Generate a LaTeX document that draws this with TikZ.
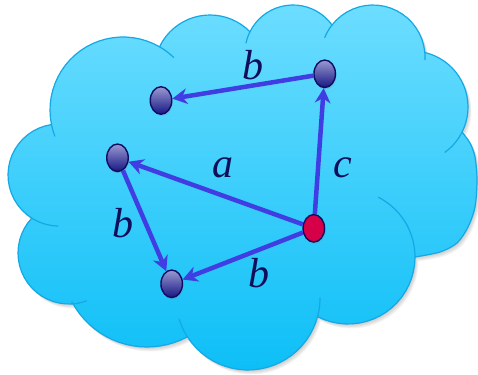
\documentclass[tikz,border=0pt]{standalone}
\usepackage{fontspec}
\setmainfont{Liberation Serif}
\usetikzlibrary{shapes.geometric,arrows.meta,shadows}
\definecolor{cloudtop}{HTML}{6CDDFF}
\definecolor{cloudbot}{HTML}{0DBFF7}
\definecolor{cloudline}{HTML}{14A8E4}
\definecolor{edgeblue}{RGB}{64,62,226}
\definecolor{vtop}{HTML}{9A9AD2}
\definecolor{vbot}{HTML}{161684}
\definecolor{vline}{HTML}{0C0C62}
\definecolor{redv}{HTML}{D60048}
\definecolor{labcol}{HTML}{0E0E5A}
\def\cloudpath{plot[domain=168.5:300.4,samples=25] ({123+73*cos(\x)},{110+73*sin(\x)})
 -- plot[domain=207.5:315.7,samples=20] ({210+56*cos(\x)},{71+56*sin(\x)})
 -- plot[domain=206:324.3,samples=20] ({293+48*cos(\x)},{53+48*sin(\x)})
 -- plot[domain=218:354.5,samples=20] ({373+52*cos(\x)},{57+52*sin(\x)})
 -- plot[domain=-76.7:26.6,samples=20] ({412+56*cos(\x)},{107+56*sin(\x)})
 -- plot[smooth] coordinates {(462,132) (470,143) (475,157) (477,180) (475,207) (468,227) (457,243) (440,252) (415,257)}
 -- plot[domain=0:117,samples=20] ({348+67*cos(\x)},{257+67*sin(\x)})
 -- plot[domain=13.7:147.4,samples=25] ({248+72*cos(\x)},{298+72*sin(\x)})
 -- plot[domain=61.9:151.9,samples=20] ({147+85*cos(\x)},{262+85*sin(\x)})
 -- plot[domain=86.6:223,samples=20] ({69+51*cos(\x)},{253+51*sin(\x)})
 -- plot[domain=122:261.7,samples=20] ({59+51*cos(\x)},{175+51*sin(\x)})
 -- cycle}
\tikzset{
  cloudstroke/.style={draw=cloudline, line width=1.2pt, line join=round},
  innerarc/.style={draw=cloudline, line width=1.2pt, line cap=round},
  vert/.style={ellipse, minimum width=21.5pt, minimum height=27.5pt, inner sep=0pt,
     line width=1.4pt, draw=vline, top color=vtop, bottom color=vbot,
     drop shadow={opacity=0.22, shadow xshift=1pt, shadow yshift=-2pt}},
  redvert/.style={vert, top color=redv, bottom color=redv},
  arr/.style={draw=edgeblue, line width=4.5pt,
     -{Stealth[length=15pt,width=16pt,inset=5pt,line width=0pt]}},
  lab/.style={inner sep=0pt, text=labcol, font=\fontsize{42}{42}\selectfont\itshape}
}
\begin{document}
\begin{tikzpicture}[x=1pt,y=-1pt]
\useasboundingbox (0,0) rectangle (478,374);
% soft shadow of the cloud
\foreach \s in {1,...,5}{
  \fill[black, opacity=0.045, shift={(0.7*\s,0.9*\s)}] \cloudpath;
}
% cloud
\path[cloudstroke, top color=cloudtop, bottom color=cloudbot] \cloudpath;
% inner arcs of the cloud bumps
\draw[innerarc] plot[domain=300.4:314,samples=8] ({123+73*cos(\x)},{110+73*sin(\x)});
\draw[innerarc] plot[domain=159:168.5,samples=6] ({123+73*cos(\x)},{110+73*sin(\x)});
\draw[innerarc] plot[domain=192:206,samples=8] ({293+48*cos(\x)},{53+48*sin(\x)});
\draw[innerarc] plot[domain=202:218,samples=8] ({373+52*cos(\x)},{57+52*sin(\x)});
\draw[innerarc] plot[domain=354.5:363,samples=6] ({373+52*cos(\x)},{57+52*sin(\x)});
\draw[innerarc] plot[domain=26.6:54,samples=10] ({412+56*cos(\x)},{107+56*sin(\x)});
\draw[innerarc] plot[domain=-63:0,samples=20] ({348+67*cos(\x)},{257+67*sin(\x)});
\draw[innerarc] plot[domain=0:13.7,samples=8] ({248+72*cos(\x)},{298+72*sin(\x)});
\draw[innerarc] plot[domain=147.4:163,samples=8] ({248+72*cos(\x)},{298+72*sin(\x)});
\draw[innerarc] plot[domain=70:86.6,samples=8] ({69+51*cos(\x)},{253+51*sin(\x)});
\draw[innerarc] plot[domain=91:122,samples=12] ({59+51*cos(\x)},{175+51*sin(\x)});
% vertices
\node[vert] (tr) at (324.7,73.8) {};
\node[vert] (tl) at (161,100.5) {};
\node[vert] (lft) at (117.5,157.8) {};
\node[vert] (bot) at (171.7,283.8) {};
\node[redvert] (red) at (313.8,228.3) {};
% edges
\draw[arr] (tr) -- (tl);
\draw[arr] (red) -- (tr);
\draw[arr] (red) -- (lft);
\draw[arr] (lft) -- (bot);
\draw[arr] (red) -- (bot);
% labels
\node[lab] (lb1) at (253,65) {b};
\node[lab] (la) at (223.3,167.5) {a};
\node[lab] (lc) at (343,167.5) {c};
\node[lab] (lb2) at (122.5,223) {b};
\node[lab] (lb3) at (258.8,272.8) {b};
\end{tikzpicture}
\end{document}
